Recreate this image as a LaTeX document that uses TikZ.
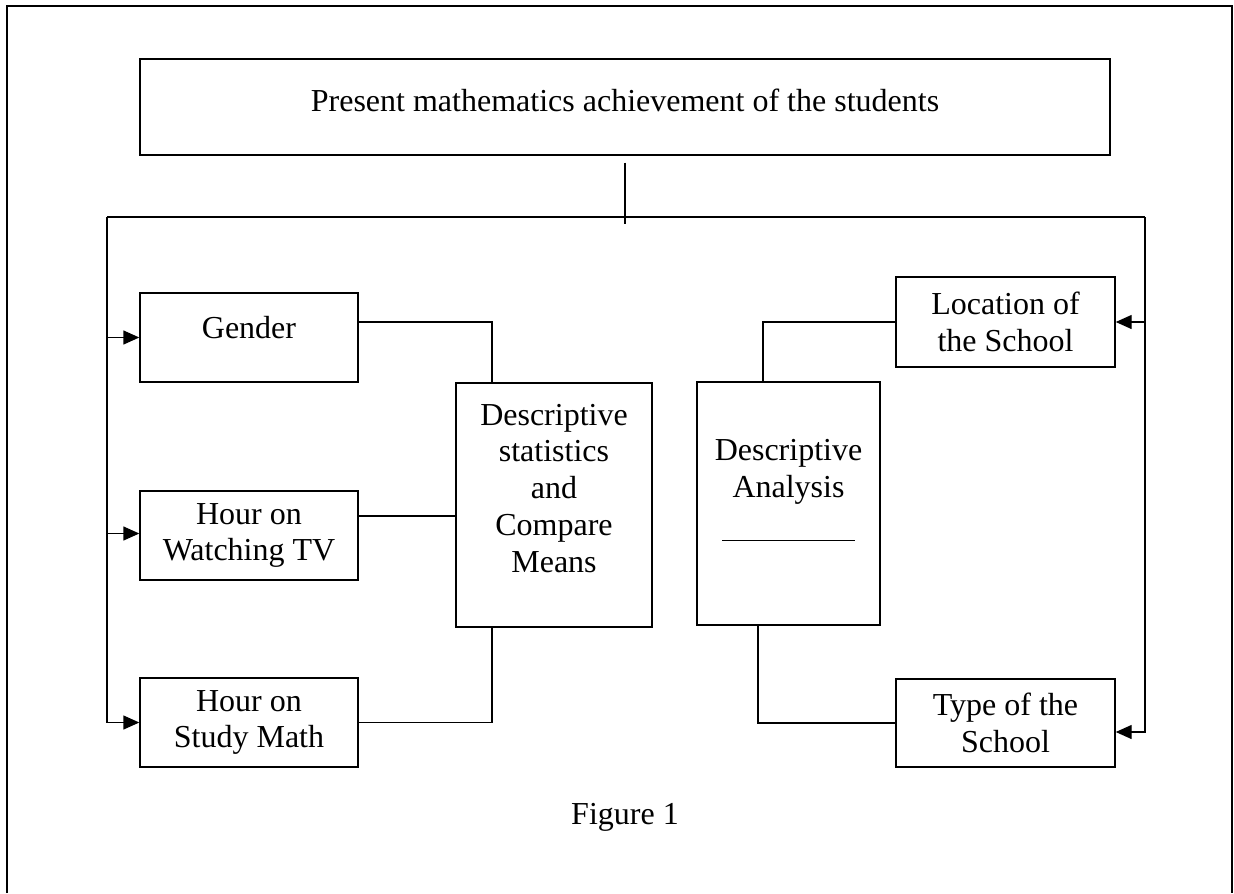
\documentclass[tikz,border=0pt]{standalone}
\usepackage{fontspec}
\setmainfont{Liberation Serif}
\usetikzlibrary{arrows.meta}

\begin{document}
\begin{tikzpicture}[x=0.5pt, y=-0.5pt, line width=0.7pt,
  every node/.style={font=\fontsize{16}{18.4}\selectfont, align=center},
  box/.style={draw, rectangle, inner sep=0pt, minimum width=#1}, box/.default=109pt,
  feed/.style={-{Triangle[length=8pt, width=7pt]}}]
  \useasboundingbox (0,0) rectangle (1234,893);
  \draw (7,893) -- (7,6) -- (1232,6) -- (1232,893);

  \node[box=485pt, minimum height=48pt, text depth=7pt] (goal) at (625,107) {Present mathematics achievement of the students};
  \node[box, minimum height=44.5pt, text depth=10pt] (gender) at (249,337.5) {Gender};
  \node[box, minimum height=44.5pt] (tv) at (249,535.5) {Hour on\\Watching TV};
  \node[box, minimum height=44.5pt] (math) at (249,722.5) {Hour on\\Study Math};
  \node[box=98pt, minimum height=122pt, text depth=17pt] (stats) at (554,505) {Descriptive\\statistics\\and\\Compare\\Means};
  \node[box=91.5pt, minimum height=121.5pt, text depth=13.4pt] (analysis) at (788.5,503.5) {Descriptive\\Analysis\\[3.1pt]\rule{66.5pt}{0.5pt}};
  \node[box=109.5pt, minimum height=45pt] (location) at (1005.5,322) {Location of\\the School};
  \node[box=109.5pt, minimum height=44pt] (type) at (1005.5,723) {Type of the\\School};
  \node (fig) at (625,817) {Figure 1};

  \coordinate (hub) at (625,217);
  \coordinate (busL) at (107,217);
  \coordinate (busR) at (1145,217);
  \draw ([yshift=-3.5pt]goal.south) -- ([yshift=-3.5pt]hub);
  \draw (busL) -- (busR);
  \draw[feed] (busL) |- (math.west);
  \draw[feed] (busL |- gender.west) -- (gender.west);
  \draw[feed] ([yshift=1pt]busL |- tv.west) -- ([yshift=1pt]tv.west);
  \draw[feed] (busR) |- ([yshift=-4.5pt]type.east);
  \draw[feed] (busR |- location.east) -- (location.east);

  \draw ([yshift=7.75pt]gender.east) -| ([xshift=-31pt]stats.north);
  \draw ([yshift=9.75pt]tv.east) coordinate (tvout) -- (tvout -| stats.west);
  \draw (math.east) -| ([xshift=-31pt]stats.south);
  \draw (location.west) -| ([xshift=-12.75pt]analysis.north);
  \draw (type.west) -| ([xshift=-15.25pt]analysis.south);
\end{tikzpicture}
\end{document}
